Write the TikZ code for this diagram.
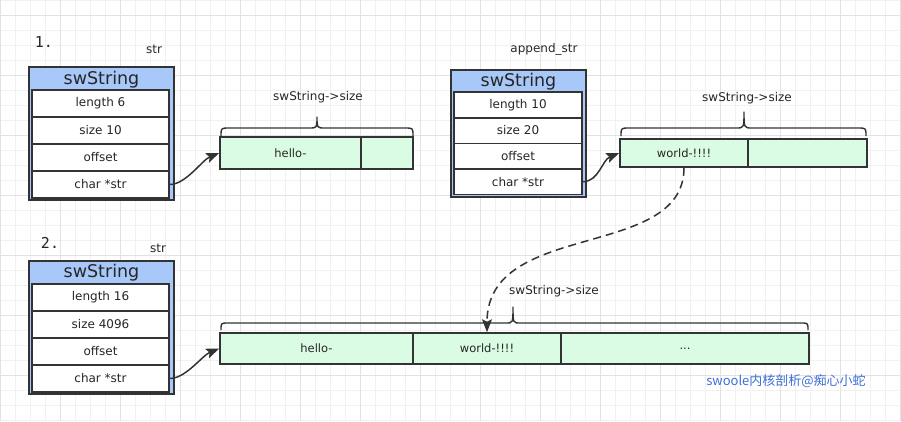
\documentclass[tikz,border=0pt]{standalone}
\usepackage{fontspec}
\setmainfont{DejaVu Sans}
\setmonofont{DejaVu Sans Mono}
\newfontfamily\cjkfont{Noto Sans CJK SC}
\usetikzlibrary{arrows.meta}

\definecolor{boxblue}{RGB}{168,200,250}
\definecolor{memgreen}{RGB}{218,252,228}
\definecolor{edge}{RGB}{51,51,51}
\definecolor{gridminor}{RGB}{241,241,241}
\definecolor{gridmajor}{RGB}{226,226,226}
\definecolor{markblue}{RGB}{60,110,215}

\begin{document}
\begin{tikzpicture}[
  x=1pt, y=-1pt,
  every node/.style={text=black!85},
  outer/.style={draw=edge, fill=boxblue, line width=1.6pt, inner sep=0pt},
  field/.style={draw=edge, fill=white, line width=1.6pt, inner sep=0pt,
    minimum width=137pt, minimum height=27pt, font=\fontsize{12}{14}\selectfont},
  cell/.style={draw=edge, fill=memgreen, line width=1.6pt, inner sep=0pt,
    font=\fontsize{11.5}{13}\selectfont},
  head/.style={font=\fontsize{17.5}{19}\selectfont},
  tag/.style={font=\fontsize{12}{14}\selectfont},
  num/.style={font=\ttfamily\fontsize{15}{17}\selectfont},
  ptr/.style={draw=edge, line width=1.5pt, -{Stealth[length=13pt,width=10pt,inset=2.5pt]}},
  brace/.style={draw=edge, line width=1.4pt, line join=round}
]
\useasboundingbox (0,0) rectangle (901,421);

% grid
\foreach \x in {0,15,...,900} \draw[gridminor, line width=0.8pt] (\x,0) -- (\x,421);
\foreach \y in {0,15,...,420} \draw[gridminor, line width=0.8pt] (0,\y) -- (901,\y);
\foreach \x in {0,60,...,900} \draw[gridmajor, line width=0.8pt] (\x,0) -- (\x,421);
\foreach \y in {15,75,...,375} \draw[gridmajor, line width=0.8pt] (0,\y) -- (901,\y);

% 1. str
\node[num] (n1) at (44,42) {1.};
\node[tag] (t1) at (154,49) {str};
\node[outer, minimum width=145pt, minimum height=133pt] (s1) at (101.5,133.5) {};
\node[head] (s1h) at (101.5,79.5) {swString};
\node[field] (s1a) at (100.5,103.5) {length 6};
\node[field] (s1b) at (100.5,130.5) {size 10};
\node[field] (s1c) at (100.5,157.5) {offset};
\node[field] (s1d) at (100.5,184.5) {char *str};

\node[cell, minimum width=141pt, minimum height=32pt] (m1a) at (290.5,153) {hello-};
\node[cell, minimum width=52pt, minimum height=32pt] (m1b) at (387,153) {};
\node[tag] (z1) at (318,97) {swString->size};
\draw[brace] (221,136) .. controls (221,128) .. (229,128) -- (309,128)
  .. controls (317,128) .. (317,117) .. controls (317,128) .. (325,128)
  -- (405,128) .. controls (413,128) .. (413,136);

\draw[ptr] (s1d.east) .. controls +(16,0) and +(-17,7) .. (m1a.west);

% 1. append_str
\node[tag] (t2) at (544,49) {append\_str};
\node[outer, minimum width=135pt, minimum height=127pt] (s2) at (518.5,133.5) {};
\node[head] (s2h) at (518.5,81.5) {swString};
\node[field, minimum width=128pt, minimum height=25.6pt] (s2a) at (518,104.9) {length 10};
\node[field, minimum width=128pt, minimum height=25.6pt] (s2b) at (518,130.5) {size 20};
\node[field, minimum width=128pt, minimum height=25.6pt] (s2c) at (518,156.1) {offset};
\node[field, minimum width=128pt, minimum height=25.6pt] (s2d) at (518,181.7) {char *str};

\node[cell, minimum width=128pt, minimum height=28pt] (m2a) at (684,153) {world-!!!!};
\node[cell, minimum width=119pt, minimum height=28pt] (m2b) at (807.5,153) {};
\node[tag] (z2) at (747,98) {swString->size};
\draw[brace] (621,136) .. controls (621,128) .. (629,128) -- (736,128)
  .. controls (744,128) .. (744,112) .. controls (744,128) .. (752,128)
  -- (858,128) .. controls (866,128) .. (866,136);

\draw[ptr] (s2d.east) .. controls +(16,0) and +(-17,7) .. (m2a.west);

% 2. str
\node[num] (n2) at (50,243) {2.};
\node[tag] (t3) at (158,248) {str};
\node[outer, minimum width=145pt, minimum height=133pt] (s3) at (101.5,327.5) {};
\node[head] (s3h) at (101.5,273) {swString};
\node[field] (s3a) at (100.5,297.5) {length 16};
\node[field] (s3b) at (100.5,324.5) {size 4096};
\node[field] (s3c) at (100.5,351.5) {offset};
\node[field] (s3d) at (100.5,378.5) {char *str};

\node[cell, minimum width=193pt, minimum height=31pt] (m3a) at (316.5,348.5) {hello-};
\node[cell, minimum width=148pt, minimum height=31pt] (m3b) at (487,348.5) {world-!!!!};
\node[cell, minimum width=248pt, minimum height=31pt] (m3c) at (685,348.5) {...};
\node[tag] (z3) at (554,291) {swString->size};
\draw[brace] (221,330) .. controls (221,323) .. (228,323) -- (506,323)
  .. controls (513,323) .. (513,307) .. controls (513,323) .. (520,323)
  -- (801,323) .. controls (808,323) .. (808,330);

\draw[ptr] (s3d.east) .. controls +(16,0) and +(-17,7) .. (m3a.west);

% append copy
\draw[ptr, dash pattern=on 8pt off 5pt] (m2a.south) .. controls +(0,93) and +(0,-113) .. (m3b.north);

\node[font=\cjkfont\fontsize{13}{15}\selectfont, text=markblue] (mark) at (786,381) {swoole内核剖析@痴心小蛇};
\end{tikzpicture}
\end{document}
